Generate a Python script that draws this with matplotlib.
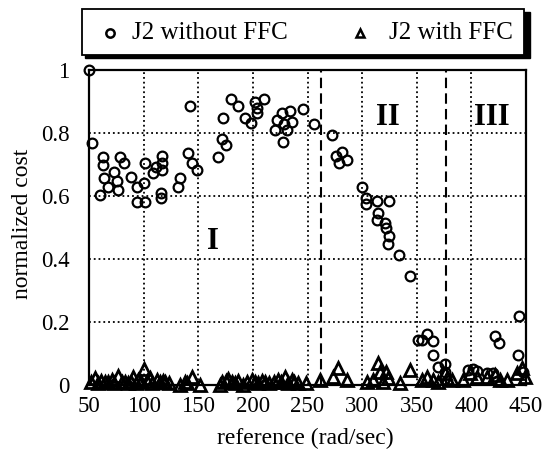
import matplotlib
matplotlib.use("Agg")
import matplotlib.pyplot as plt
from matplotlib.lines import Line2D
from matplotlib.patches import Rectangle

plt.rcParams['font.family'] = ['Liberation Serif', 'DejaVu Serif']

# J2 without FFC (circles)
ref_no_ffc = [50, 53, 60, 63, 63, 64, 67.7, 73, 76, 77, 78.4, 82.3, 88, 93.6, 93.6,
              100.6, 101, 101, 108.9, 111, 115.9, 115.9, 117, 117, 117, 131.7, 133.3,
              140.9, 142.4, 144.6, 148.6, 167.8, 171.4, 173, 175, 180, 186.7, 192.8,
              198.3, 202, 203.5, 203.5, 210.5, 220.3, 221.8, 226.9, 227.8, 228.8, 231,
              234, 235.5, 246, 256, 272, 276, 279, 281.3, 285.9, 299.6, 303.5, 304,
              314, 314.8, 314, 321, 321.9, 324, 325, 325, 334, 343.8, 351.4, 354.5,
              359.7, 365, 365, 369.7, 376, 376, 397, 401.5, 405, 414, 420, 421.6,
              425.6, 423, 443, 443.9, 447]
cost_no_ffc = [1.0, 0.767, 0.603, 0.725, 0.698, 0.656, 0.628, 0.677, 0.649, 0.619, 0.725,
               0.706, 0.659, 0.63, 0.582, 0.642, 0.706, 0.582, 0.672, 0.691, 0.609, 0.593,
               0.727, 0.704, 0.683, 0.628, 0.656, 0.735, 0.886, 0.704, 0.683, 0.723, 0.78,
               0.847, 0.762, 0.907, 0.887, 0.847, 0.833, 0.897, 0.878, 0.865, 0.907, 0.811,
               0.841, 0.865, 0.772, 0.83, 0.811, 0.871, 0.836, 0.875, 0.83, 0.794, 0.727,
               0.704, 0.741, 0.714, 0.63, 0.575, 0.593, 0.584, 0.547, 0.524, 0.513, 0.497,
               0.448, 0.585, 0.473, 0.413, 0.346, 0.143, 0.143, 0.162, 0.141, 0.095, 0.056,
               0.067, 0.042, 0.048, 0.05, 0.045, 0.038, 0.038, 0.156, 0.134, 0.012, 0.095,
               0.219, 0.04]

# J2 with FFC (triangles)
ref_ffc = [52, 55.5, 58, 61, 64.6, 67, 70.8, 73, 76.9, 80, 83, 86, 88, 90.6, 93, 95.2,
           98, 100.6, 103, 105.8, 108, 112, 115, 118, 119.6, 123, 133.3, 138, 140, 144,
           151.6, 170, 172, 175, 177.5, 181, 183.6, 186, 191.2, 195, 199, 202, 205, 208,
           211, 215, 219, 223.3, 226, 229.4, 232, 235.5, 238, 241, 249, 261.4, 273.6,
           278.2, 285.8, 304.1, 310.2, 314.8, 316.4, 319, 321.9, 324, 334.7, 343.8,
           354.5, 359, 365.1, 369.6, 375.9, 377.4, 382, 392.6, 398.7, 404.8, 413.9,
           421.6, 426.2, 432.3, 441.4, 446, 449]
cost_ffc = [0.01, 0.021, 0.005, 0.012, 0.011, 0.008, 0.016, 0.006, 0.029, 0.008, 0.011,
            0.006, 0.01, 0.026, 0.005, 0.016, 0.008, 0.05, 0.012, 0.021, 0.006, 0.016,
            0.008, 0.012, 0.011, 0.005, 0.0, 0.01, 0.006, 0.025, 0.0, 0.0, 0.008, 0.012,
            0.018, 0.01, 0.005, 0.012, 0.0, 0.008, 0.016, 0.01, 0.005, 0.012, 0.011,
            0.006, 0.01, 0.016, 0.008, 0.026, 0.006, 0.016, 0.01, 0.005, 0.005, 0.016,
            0.026, 0.053, 0.016, 0.011, 0.016, 0.069, 0.042, 0.011, 0.042, 0.021, 0.005,
            0.048, 0.016, 0.026, 0.016, 0.011, 0.037, 0.021, 0.016, 0.016, 0.037, 0.026,
            0.026, 0.032, 0.016, 0.016, 0.037, 0.053, 0.026]

region_bounds = [262, 377]
region_names = ["I", "II", "III"]
region_pos = [(163, 0.457), (324, 0.85), (419, 0.85)]

x_ticks = [50, 100, 150, 200, 250, 300, 350, 400, 450]
y_ticks = [0, 0.2, 0.4, 0.6, 0.8, 1]
y_tick_labels = ["0", "0.2", "0.4", "0.6", "0.8", "1"]
legend_labels = ["J2 without FFC", "J2 with FFC"]

W, H = 545, 453
fig = plt.figure(figsize=(W / 100, H / 100), dpi=100)
ax = fig.add_axes([89 / W, 1 - 385 / H, 437 / W, 315 / H])

ax.plot(ref_no_ffc, cost_no_ffc, 'o', mfc='none', mec='black', ms=7, mew=1.6, clip_on=False)
ax.plot(ref_ffc, cost_ffc, '^', mfc='none', mec='black', ms=8, mew=2.0, clip_on=False)

for xb in region_bounds:
    ax.axvline(xb, color='black', lw=1.5, ls=(0, (5, 2.5)))

for name, (xt, yt) in zip(region_names, region_pos):
    ax.text(xt, yt, name, fontsize=22, fontweight='bold', ha='center', va='center')

ax.set_xlim(50, 450)
ax.set_ylim(0, 1)
ax.set_xticks(x_ticks)
ax.set_yticks(y_ticks, y_tick_labels)
ax.tick_params(length=0, labelsize=16.5)
ax.tick_params(axis='x', pad=8)
ax.tick_params(axis='y', pad=14)
ax.grid(True, color='black', ls=':', lw=1.3)
for sp in ax.spines.values():
    sp.set_linewidth(1.6)

ax.set_xlabel("reference (rad/sec)", fontsize=17)
ax.set_ylabel("normalized cost", fontsize=17)
ax.xaxis.set_label_coords((305 - 89) / 437, (385 - 428) / 315)
ax.yaxis.set_label_coords((33 - 89) / 437, (385 - 224) / 315)

# legend box drawn by hand, with a solid black drop shadow
def fx(px):
    return px / W

def fy(py):
    return 1 - py / H

fig.add_artist(Rectangle((fx(85), fy(58)), fx(527) - fx(82), fy(9) - fy(55),
                         transform=fig.transFigure, facecolor='black', edgecolor='black'))
fig.add_artist(Rectangle((fx(82), fy(55)), fx(524) - fx(82), fy(9) - fy(55),
                         transform=fig.transFigure, facecolor='white', edgecolor='black', lw=1.3))
fig.add_artist(Line2D([fx(110)], [fy(33)], transform=fig.transFigure, ls='none', marker='o',
                      mfc='none', mec='black', ms=6, mew=1.8))
fig.add_artist(Line2D([fx(360)], [fy(33)], transform=fig.transFigure, ls='none', marker='^',
                      mfc='none', mec='black', ms=6, mew=1.8))
fig.text(fx(132), fy(33), legend_labels[0], fontsize=18, va='center', ha='left')
fig.text(fx(389), fy(33), legend_labels[1], fontsize=18, va='center', ha='left')

plt.savefig("out.png", dpi=100)
